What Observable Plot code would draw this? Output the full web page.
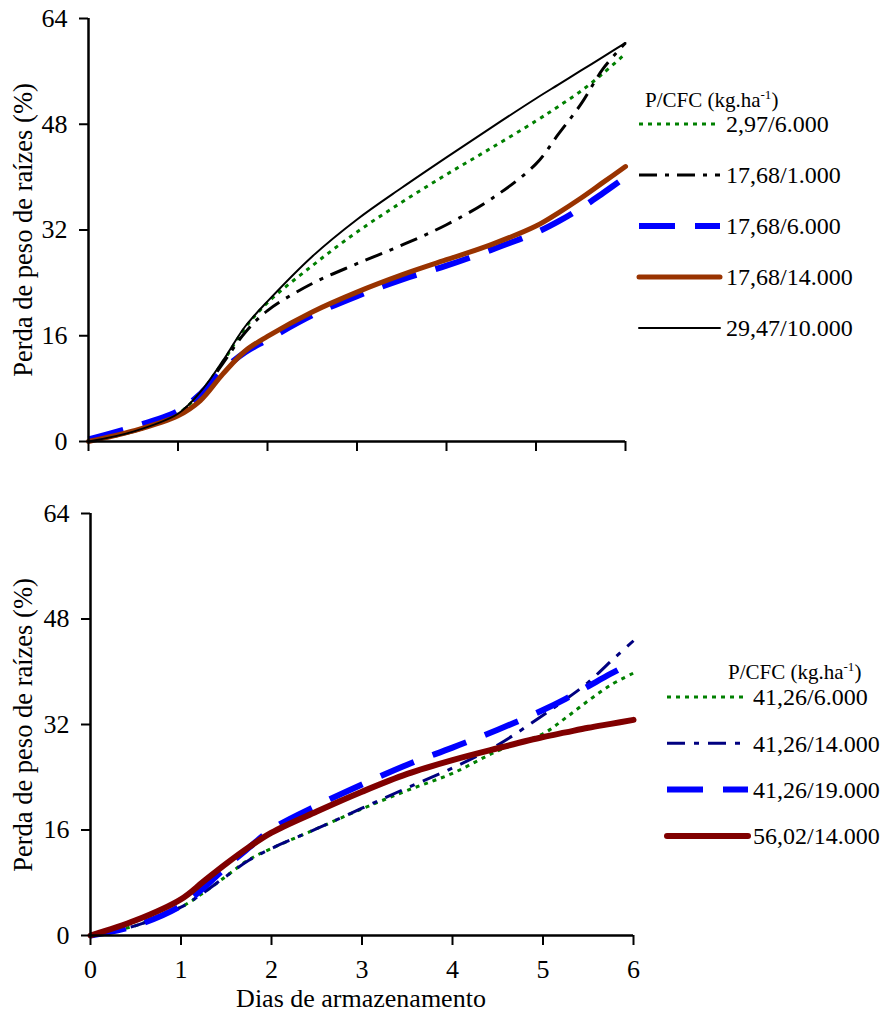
<!DOCTYPE html>
<html><head><meta charset="utf-8">
<script src="https://cdn.jsdelivr.net/npm/d3@7"></script>
<script src="https://cdn.jsdelivr.net/npm/@observablehq/plot@0.6"></script>
<style>
html,body{margin:0;padding:0;overflow:hidden;background:#fff;}
#wrap{position:relative;width:883px;height:1012px;font-family:'Liberation Serif','Times New Roman',serif;color:#000;}
.panel{position:absolute;left:0;}
.ylab{position:absolute;white-space:nowrap;font-size:26.5px;transform:translate(-50%,-50%) rotate(-90deg);line-height:1;}
.xlab{position:absolute;white-space:nowrap;font-size:26px;transform:translate(-50%,-50%);line-height:0.8;}
#legend{position:absolute;left:0;top:0;pointer-events:none;}
</style>
</head><body><div id="wrap"></div>
<script>
// ---------- data ----------
const days = [0,0.5,1,1.25,1.5,1.75,2,2.5,3,3.5,4,4.5,5,5.25,5.5,5.75,6];
const xTicks = [0,1,2,3,4,5,6];
const yTicks = [0,16,32,48,64];
const legendTitle = "P/CFC (kg.ha";
const legendTitleSup = "-1";
const xAxisLabel = "Dias de armazenamento";
const yAxisLabel = "Perda de peso de raízes (%)";

// top panel
const topLabels = ["2,97/6.000","17,68/1.000","17,68/6.000","17,68/14.000","29,47/10.000"];
const top_297_6000   = [0,1.5,4.2,7.4,12.0,17.2,21.0,26.6,31.7,36.2,40.4,44.4,48.5,50.7,53.0,55.7,58.7];
const top_1768_1000  = [0,1.5,4.2,7.2,11.8,16.5,19.8,23.9,26.9,29.7,32.8,36.7,42.0,46.5,51.0,56.4,60.3];
const top_1768_6000  = [0.3,2.2,4.6,7.2,10.8,13.5,15.4,19.1,22.0,24.5,26.6,29.0,31.6,33.3,35.3,37.6,40.0];
const top_1768_14000 = [0,1.6,3.9,6.2,10.2,13.7,15.9,19.6,22.6,25.2,27.5,29.8,32.6,34.6,36.8,39.2,41.6];
const top_2947_10000 = [0,1.5,4.2,7.5,12.2,17.4,21.2,28.0,33.6,38.4,43.0,47.5,51.9,54.0,56.1,58.2,60.3];

// bottom panel
const botLabels = ["41,26/6.000","41,26/14.000","41,26/19.000","56,02/14.000"];
const bot_4126_6000  = [0,1.5,4.3,6.5,9.0,11.5,13.2,16.2,19.2,22.0,24.6,28.0,30.6,33.0,35.6,38.0,39.8];
const bot_4126_14000 = [0,1.5,4.3,6.5,9.0,11.4,13.2,16.2,19.3,22.4,25.4,28.9,33.4,35.8,38.4,41.6,44.7];
const bot_4126_19000 = [0,1.5,4.5,7.2,10.4,13.3,16.1,19.7,22.9,25.9,28.5,31.2,34.2,35.9,37.8,39.7,41.5];
const bot_5602_14000 = [0,2.3,5.5,8.2,10.9,13.4,15.6,18.8,21.8,24.5,26.6,28.4,30.1,30.8,31.5,32.1,32.7];

// ---------- styles ----------
const green = {color:"#008000", width:3, dash:"4 5", cap:"butt"};
const dashDotBlack = {color:"#000000", width:3, dash:"18 8 4 8", cap:"butt"};
const blueDash = {color:"#0000ff", width:6, dash:"36 20", cap:"butt"};
const brown = {color:"#993300", width:5, dash:null, cap:"round"};
const blackSolid = {color:"#000000", width:2, dash:null, cap:"round"};
const navyDashDot = {color:"#000080", width:3, dash:"18 9 5 9", cap:"butt"};
const darkRed = {color:"#800000", width:6, dash:null, cap:"round"};

const topSeries = [
  {label: topLabels[0], values: top_297_6000, ...green},
  {label: topLabels[1], values: top_1768_1000, ...dashDotBlack},
  {label: topLabels[2], values: top_1768_6000, ...blueDash},
  {label: topLabels[3], values: top_1768_14000, ...brown},
  {label: topLabels[4], values: top_2947_10000, ...blackSolid}
];
const botSeries = [
  {label: botLabels[0], values: bot_4126_6000, ...green},
  {label: botLabels[1], values: bot_4126_14000, ...navyDashDot},
  {label: botLabels[2], values: bot_4126_19000, ...blueDash},
  {label: botLabels[3], values: bot_5602_14000, ...darkRed}
];

function panel(series, opts) {
  const marks = series.map(s => Plot.line(days.map((d,i)=>({x:d, y:s.values[i]})), {
    x:"x", y:"y", stroke:s.color, strokeWidth:s.width,
    strokeDasharray:s.dash || undefined, strokeLinecap:s.cap, strokeLinejoin:"round",
    curve:"catmull-rom"
  }));
  marks.push(
    Plot.axisX({ticks:xTicks, tickSize:10, tickPadding:14, strokeWidth:2,
      tickFormat: opts.xLabels ? (d => String(d)) : (() => ""), label:null}),
    Plot.axisY({ticks:yTicks, tickSize:9, tickPadding:12, strokeWidth:2, label:null}),
    Plot.ruleY([0], {strokeWidth:2.5}),
    Plot.ruleX([0], {strokeWidth:2.5})
  );
  return Plot.plot({
    width:883, height:opts.height,
    marginTop:opts.mt, marginBottom:opts.mb, marginLeft:opts.ml, marginRight:opts.mr,
    style:{fontFamily:"'Liberation Serif','Times New Roman',serif", fontSize:"26px", background:"transparent", overflow:"visible", color:"#000"},
    x:{domain:[0,6]}, y:{domain:[0,64]},
    marks
  });
}

const wrap = document.getElementById("wrap");
const p1 = panel(topSeries, {height:460, mt:18, mb:19, ml:88, mr:258, xLabels:false});
p1.classList.add("panel"); p1.style.top = "0px";
const p2 = panel(botSeries, {height:552, mt:53, mb:77, ml:90, mr:250, xLabels:true});
p2.classList.add("panel"); p2.style.top = "460px";
wrap.appendChild(p1); wrap.appendChild(p2);

// axis titles
function addDiv(cls, text, left, top) {
  const d = document.createElement("div");
  d.className = cls; d.textContent = text;
  d.style.left = left + "px"; d.style.top = top + "px";
  wrap.appendChild(d);
}
addDiv("ylab", yAxisLabel, 23, 230);
addDiv("ylab", yAxisLabel, 23, 725);
addDiv("xlab", xAxisLabel, 361, 999);

// legends
const svg = d3.select(wrap).append("svg").attr("id","legend").attr("width",883).attr("height",1012)
  .style("font-family","'Liberation Serif','Times New Roman',serif");

function legend(series, cfg) {
  const t = svg.append("text").attr("x", cfg.titleX).attr("y", cfg.titleY).attr("font-size", 21);
  t.append("tspan").text(legendTitle);
  t.append("tspan").attr("font-size", 13).attr("dy", -8).text(legendTitleSup);
  t.append("tspan").attr("dy", 8).text(")");
  series.forEach((s, i) => {
    const y = cfg.y0 + i * cfg.dy;
    svg.append("line").attr("x1", cfg.x1).attr("x2", cfg.x2).attr("y1", y).attr("y2", y)
      .attr("stroke", s.color).attr("stroke-width", s.width)
      .attr("stroke-dasharray", s.dash).attr("stroke-linecap", s.cap);
    svg.append("text").attr("x", cfg.tx).attr("y", y).attr("dy", "0.35em")
      .attr("font-size", 24).text(s.label);
  });
}
legend(topSeries, {titleX:645, titleY:107, y0:124, dy:51, x1:639, x2:720, tx:726});
legend(botSeries, {titleX:728, titleY:679, y0:697, dy:46.3, x1:667, x2:748, tx:753});
</script></body></html>
